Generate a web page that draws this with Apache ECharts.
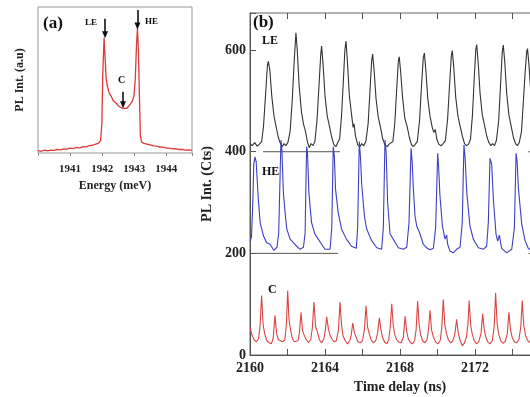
<!DOCTYPE html>
<html lang="en">
<head>
<meta charset="UTF-8"/>
<title>PL spectrum and time trace</title>
<script src="https://cdn.jsdelivr.net/npm/echarts@6/dist/echarts.min.js"></script>
<style>
  html, body { margin: 0; padding: 0; background: #fff; }
  #chart { width: 530px; height: 397px; }
</style>
</head>
<body>
<div id="chart"></div>
<script>
// ---- panel (a): PL spectrum, energy (meV) vs intensity (a.u.)
var specPts = [
  [1940.0, 1.6], [1940.1, 1.2], [1940.2, 1.9], [1940.3, 1.4], [1940.4, 2.0], [1940.5, 1.8],
  [1940.6, 2.5], [1940.7, 2.1], [1940.8, 2.8], [1940.9, 2.6], [1941.0, 3.3], [1941.1, 3.0],
  [1941.2, 3.8], [1941.3, 3.5], [1941.4, 4.4], [1941.5, 4.2], [1941.6, 5.0], [1941.7, 5.3],
  [1941.8, 6.1], [1941.88, 6.6], [1941.95, 8.5], [1941.99, 20], [1942.02, 55], [1942.06, 79],
  [1942.09, 66], [1942.12, 52], [1942.16, 46], [1942.22, 41], [1942.28, 39], [1942.34, 36],
  [1942.4, 35], [1942.46, 33.5], [1942.52, 32], [1942.58, 31], [1942.64, 30.5], [1942.7, 29.5],
  [1942.76, 30.5], [1942.82, 31.5], [1942.88, 33.5], [1942.94, 35.5], [1942.99, 39], [1943.03, 50],
  [1943.07, 74], [1943.1, 85.4], [1943.13, 70], [1943.16, 40], [1943.19, 12], [1943.23, 7.5],
  [1943.3, 6.6], [1943.4, 6.0], [1943.5, 5.6], [1943.6, 4.9], [1943.7, 4.7], [1943.8, 4.1],
  [1943.9, 4.0], [1944.0, 3.4], [1944.1, 3.3], [1944.2, 2.8], [1944.3, 2.9], [1944.4, 2.4],
  [1944.5, 2.5], [1944.6, 2.0], [1944.7, 2.1], [1944.8, 1.8]
];
var energyTicks = [1941, 1942, 1943, 1944];

// ---- panel (b): time traces (ns, counts)
var lePts = [
  [2160.00, 416], [2160.12, 412], [2160.25, 418], [2160.38, 411], [2160.50, 415], [2160.62, 420],
  [2160.72, 450], [2160.84, 518], [2160.93, 570], [2160.98, 578], [2161.06, 560], [2161.16, 510],
  [2161.28, 470], [2161.38, 452], [2161.50, 430], [2161.60, 418], [2161.72, 410], [2161.82, 416],
  [2161.92, 412], [2162.02, 418], [2162.14, 440], [2162.25, 500], [2162.36, 580], [2162.45, 634],
  [2162.52, 600], [2162.62, 530], [2162.74, 480], [2162.85, 455], [2162.96, 440], [2163.06, 420],
  [2163.16, 408], [2163.26, 416], [2163.36, 412], [2163.46, 420], [2163.57, 460], [2163.68, 530],
  [2163.77, 590], [2163.82, 608], [2163.90, 570], [2164.00, 510], [2164.12, 470], [2164.24, 450],
  [2164.36, 428], [2164.47, 414], [2164.58, 410], [2164.68, 418], [2164.78, 425], [2164.88, 470],
  [2164.98, 540], [2165.06, 600], [2165.12, 618], [2165.19, 580], [2165.30, 510], [2165.42, 472],
  [2165.50, 448], [2165.55, 455], [2165.62, 432], [2165.74, 414], [2165.86, 410], [2165.96, 416],
  [2166.06, 412], [2166.18, 420], [2166.30, 455], [2166.40, 520], [2166.49, 580], [2166.54, 592],
  [2166.62, 560], [2166.72, 505], [2166.84, 468], [2166.96, 448], [2167.08, 425], [2167.20, 413],
  [2167.32, 410], [2167.42, 415], [2167.52, 412], [2167.62, 420], [2167.72, 455], [2167.82, 520],
  [2167.91, 578], [2167.96, 587], [2168.04, 555], [2168.14, 505], [2168.26, 465], [2168.38, 450],
  [2168.50, 428], [2168.60, 415], [2168.70, 410], [2168.80, 414], [2168.92, 420], [2169.04, 460],
  [2169.14, 525], [2169.24, 585], [2169.30, 594], [2169.38, 560], [2169.48, 505], [2169.60, 470],
  [2169.72, 448], [2169.80, 438], [2169.88, 444], [2169.96, 425], [2170.08, 414], [2170.20, 412],
  [2170.30, 416], [2170.42, 422], [2170.54, 465], [2170.64, 530], [2170.74, 590], [2170.79, 599],
  [2170.87, 565], [2170.97, 508], [2171.09, 470], [2171.21, 450], [2171.33, 430], [2171.44, 416],
  [2171.55, 412], [2171.66, 415], [2171.76, 425], [2171.86, 470], [2171.96, 545], [2172.04, 600],
  [2172.09, 611], [2172.17, 575], [2172.27, 515], [2172.39, 472], [2172.51, 452], [2172.63, 430],
  [2172.74, 418], [2172.84, 412], [2172.94, 416], [2173.04, 412], [2173.14, 422], [2173.26, 460],
  [2173.36, 530], [2173.45, 595], [2173.51, 610], [2173.59, 575], [2173.69, 515], [2173.81, 472],
  [2173.93, 450], [2174.05, 428], [2174.16, 416], [2174.26, 412], [2174.36, 418], [2174.48, 440],
  [2174.58, 500], [2174.68, 560], [2174.76, 598], [2174.80, 603], [2174.88, 570], [2174.98, 515],
  [2175.10, 475], [2175.25, 445], [2175.40, 420], [2175.60, 412], [2175.90, 415]
];
var hePts = [
  [2160.00, 224], [2160.08, 232], [2160.15, 300], [2160.20, 375], [2160.27, 390], [2160.33, 380],
  [2160.44, 308], [2160.54, 261], [2160.72, 234], [2160.89, 221], [2161.07, 218], [2161.27, 206],
  [2161.44, 212], [2161.53, 240], [2161.59, 330], [2161.65, 423], [2161.70, 405], [2161.78, 320],
  [2161.87, 281], [2161.96, 248], [2162.14, 228], [2162.31, 221], [2162.49, 214], [2162.67, 208],
  [2162.85, 212], [2162.94, 240], [2162.98, 330], [2163.02, 410], [2163.07, 395], [2163.14, 320],
  [2163.28, 261], [2163.46, 238], [2163.64, 228], [2163.82, 218], [2164.00, 208], [2164.27, 208],
  [2164.36, 250], [2164.44, 410], [2164.50, 390], [2164.56, 327], [2164.70, 281], [2164.88, 248],
  [2165.14, 228], [2165.41, 214], [2165.67, 210], [2165.74, 250], [2165.83, 420], [2165.89, 390],
  [2165.96, 334], [2166.10, 274], [2166.22, 248], [2166.49, 225], [2166.76, 211], [2167.02, 208],
  [2167.11, 250], [2167.20, 423], [2167.26, 400], [2167.34, 300], [2167.47, 238], [2167.64, 228],
  [2167.91, 211], [2168.18, 208], [2168.36, 212], [2168.48, 260], [2168.59, 407], [2168.65, 380],
  [2168.71, 328], [2168.80, 274], [2168.89, 254], [2169.07, 238], [2169.24, 218], [2169.42, 211],
  [2169.60, 207], [2169.78, 210], [2169.90, 250], [2170.01, 397], [2170.06, 370], [2170.13, 314],
  [2170.26, 254], [2170.40, 228], [2170.49, 236], [2170.54, 218], [2170.67, 204], [2170.84, 201],
  [2171.02, 208], [2171.20, 212], [2171.32, 260], [2171.41, 413], [2171.47, 390], [2171.56, 320],
  [2171.73, 254], [2171.91, 228], [2172.18, 211], [2172.44, 208], [2172.62, 214], [2172.71, 260],
  [2172.80, 387], [2172.89, 375], [2172.98, 306], [2173.12, 238], [2173.21, 224], [2173.30, 236],
  [2173.42, 210], [2173.69, 201], [2173.96, 208], [2174.10, 250], [2174.19, 397], [2174.25, 380],
  [2174.31, 330], [2174.49, 258], [2174.67, 225], [2174.84, 210], [2175.00, 206], [2175.30, 205],
  [2175.50, 212]
];
var cPts = [
  [2160.00, 55], [2160.10, 40], [2160.22, 30], [2160.34, 26], [2160.46, 32], [2160.54, 60],
  [2160.62, 117], [2160.70, 60], [2160.78, 42], [2160.90, 28], [2161.02, 24], [2161.14, 22],
  [2161.24, 34], [2161.33, 78], [2161.42, 42], [2161.52, 30], [2161.62, 27], [2161.74, 26],
  [2161.86, 30], [2161.94, 60], [2162.01, 127], [2162.08, 70], [2162.16, 50], [2162.26, 32],
  [2162.36, 26], [2162.46, 23], [2162.56, 28], [2162.64, 45], [2162.72, 84], [2162.80, 48],
  [2162.88, 40], [2163.00, 30], [2163.12, 25], [2163.24, 30], [2163.33, 55], [2163.41, 104],
  [2163.50, 55], [2163.60, 45], [2163.70, 30], [2163.82, 24], [2163.94, 32], [2164.02, 50],
  [2164.09, 75], [2164.18, 52], [2164.26, 40], [2164.36, 32], [2164.48, 26], [2164.60, 28],
  [2164.72, 50], [2164.80, 104], [2164.88, 60], [2164.96, 38], [2165.08, 28], [2165.20, 22],
  [2165.32, 28], [2165.40, 40], [2165.48, 63], [2165.56, 45], [2165.66, 35], [2165.76, 26],
  [2165.88, 24], [2166.00, 28], [2166.10, 50], [2166.19, 97], [2166.27, 55], [2166.36, 42],
  [2166.46, 30], [2166.58, 24], [2166.70, 28], [2166.80, 42], [2166.90, 73], [2166.98, 50],
  [2167.06, 36], [2167.18, 25], [2167.30, 22], [2167.40, 30], [2167.48, 55], [2167.56, 101],
  [2167.64, 58], [2167.72, 40], [2167.82, 30], [2167.94, 25], [2168.06, 24], [2168.18, 35],
  [2168.27, 76], [2168.35, 48], [2168.44, 32], [2168.54, 25], [2168.66, 22], [2168.78, 28],
  [2168.86, 50], [2168.94, 106], [2169.02, 60], [2169.10, 40], [2169.20, 28], [2169.32, 24],
  [2169.44, 30], [2169.52, 50], [2169.60, 88], [2169.68, 50], [2169.78, 35], [2169.90, 26],
  [2170.02, 22], [2170.14, 28], [2170.22, 50], [2170.31, 109], [2170.39, 60], [2170.48, 42],
  [2170.58, 30], [2170.70, 24], [2170.82, 28], [2170.92, 40], [2171.02, 70], [2171.10, 45],
  [2171.20, 30], [2171.32, 18], [2171.44, 24], [2171.54, 35], [2171.62, 60], [2171.69, 107],
  [2171.77, 58], [2171.86, 40], [2171.96, 28], [2172.08, 22], [2172.20, 26], [2172.32, 42],
  [2172.41, 81], [2172.49, 50], [2172.58, 35], [2172.68, 26], [2172.80, 22], [2172.92, 28],
  [2173.02, 55], [2173.10, 122], [2173.18, 62], [2173.27, 40], [2173.38, 28], [2173.50, 23],
  [2173.62, 27], [2173.72, 42], [2173.81, 84], [2173.89, 50], [2173.98, 35], [2174.10, 26],
  [2174.22, 24], [2174.34, 30], [2174.44, 55], [2174.52, 107], [2174.60, 58], [2174.70, 38],
  [2174.82, 28], [2174.95, 24], [2175.10, 35]
];
// offset baselines drawn under the LE and HE traces
var base400 = [[[2160.7, 400], [2164.8, 400]], [[2174.85, 400], [2176, 400]]];
var base200 = [[[2160.0, 200], [2164.7, 200]], [[2174.85, 200], [2176, 200]]];
var countTicks = [0, 200, 400, 600];
var timeLabels = [2160, 2164, 2168, 2172];

var serif = "'Liberation Serif', 'Times New Roman', serif";

var chart = echarts.init(document.getElementById('chart'), null, {renderer: 'canvas'});

function arrowLine(x, y0, y1) {
    return [{coord: [x, y0]}, {coord: [x, y1]}];
}

function segSeries(seg) {
    return {
        type: 'line', xAxisIndex: 1, yAxisIndex: 1, data: seg,
        showSymbol: false, silent: true,
        lineStyle: {color: '#555', width: 1}
    };
}

var option = {
    animation: false,
    backgroundColor: '#fff',
    textStyle: {fontFamily: serif},
    grid: [
        {left: 38, top: 7, width: 154, height: 146, outerBoundsMode: 'none',
         show: true, borderColor: '#999', borderWidth: 1, backgroundColor: 'transparent'},
        {left: 250, top: 13, width: 300, height: 342, outerBoundsMode: 'none',
         show: true, borderColor: '#666', borderWidth: 1, backgroundColor: 'transparent'}
    ],
    xAxis: [
        {
            gridIndex: 0, type: 'value', min: 1940, max: 1944.8, interval: 1,
            name: 'Energy (meV)', nameLocation: 'middle', nameGap: 27,
            nameTextStyle: {fontFamily: serif, fontWeight: 'bold', fontSize: 12, color: '#222'},
            axisLine: {show: false},
            axisTick: {show: true, inside: false, length: 3, lineStyle: {color: '#888'}},
            axisLabel: {
                fontFamily: serif, fontWeight: 'bold', fontSize: 11, color: '#222', margin: 11,
                formatter: function (v) { return energyTicks.indexOf(v) >= 0 ? String(v) : ''; }
            },
            splitLine: {show: false}
        },
        {
            gridIndex: 1, type: 'value', min: 2160, max: 2176, interval: 2,
            name: 'Time delay (ns)', nameLocation: 'middle', nameGap: 25,
            nameTextStyle: {fontFamily: serif, fontWeight: 'bold', fontSize: 14, color: '#222'},
            axisLine: {show: true, lineStyle: {color: '#555', width: 1}},
            axisTick: {show: true, inside: true, length: 6, lineStyle: {color: '#555'}},
            axisLabel: {
                fontFamily: serif, fontWeight: 'bold', fontSize: 14, color: '#222', margin: 6,
                formatter: function (v) { return timeLabels.indexOf(v) >= 0 ? String(v) : ''; }
            },
            splitLine: {show: false}
        },
        {
            gridIndex: 1, type: 'value', position: 'top', min: 2160, max: 2176, interval: 2,
            axisLine: {show: false},
            axisTick: {show: true, inside: true, length: 6, lineStyle: {color: '#555'}},
            axisLabel: {show: false},
            splitLine: {show: false}
        }
    ],
    yAxis: [
        {
            gridIndex: 0, type: 'value', min: 0, max: 100,
            name: 'PL Int. (a.u)', nameLocation: 'middle', nameGap: 12,
            nameTextStyle: {fontFamily: serif, fontWeight: 'bold', fontSize: 12, color: '#222'},
            axisLine: {show: false}, axisTick: {show: false}, axisLabel: {show: false},
            splitLine: {show: false}
        },
        {
            gridIndex: 1, type: 'value', min: 0, max: 673, interval: 200,
            name: 'PL Int. (Cts)', nameLocation: 'middle', nameGap: 26,
            nameTextStyle: {fontFamily: serif, fontWeight: 'bold', fontSize: 14, color: '#222'},
            axisLine: {show: true, lineStyle: {color: '#555', width: 1}},
            axisTick: {show: true, inside: true, length: 6, lineStyle: {color: '#555'}},
            axisLabel: {
                fontFamily: serif, fontWeight: 'bold', fontSize: 14, color: '#222', margin: 4,
                formatter: function (v) { return countTicks.indexOf(v) >= 0 ? String(v) : ''; }
            },
            splitLine: {show: false}
        }
    ],
    series: [
        {
            name: 'spectrum', type: 'line', xAxisIndex: 0, yAxisIndex: 0,
            data: specPts, showSymbol: false,
            lineStyle: {color: '#dd3a3a', width: 1.3},
            markLine: {
                silent: true, symbol: ['none', 'triangle'], symbolSize: [6, 7],
                label: {show: false},
                lineStyle: {color: '#111', width: 1.6, type: 'solid'},
                data: [
                    arrowLine(1942.09, 92, 81),
                    arrowLine(1943.10, 98, 87),
                    arrowLine(1942.65, 42, 33)
                ]
            }
        },
        segSeries(base400[0]), segSeries(base400[1]),
        segSeries(base200[0]), segSeries(base200[1]),
        {
            name: 'LE', type: 'line', xAxisIndex: 1, yAxisIndex: 1,
            data: lePts, showSymbol: false,
            lineStyle: {color: '#333', width: 1.1}
        },
        {
            name: 'HE', type: 'line', xAxisIndex: 1, yAxisIndex: 1,
            data: hePts, showSymbol: false,
            lineStyle: {color: '#3d3fc0', width: 1.1}
        },
        {
            name: 'C', type: 'line', xAxisIndex: 1, yAxisIndex: 1,
            data: cPts, showSymbol: false,
            lineStyle: {color: '#dc4444', width: 1.1}
        }
    ],
    graphic: [
        {type: 'text', left: 43, top: 15, style: {text: '(a)', font: 'bold 17px ' + serif, fill: '#111'}},
        {type: 'text', left: 85, top: 18, style: {text: 'LE', font: 'bold 9px ' + serif, fill: '#111'}},
        {type: 'text', left: 145, top: 17, style: {text: 'HE', font: 'bold 9px ' + serif, fill: '#111'}},
        {type: 'text', left: 118, top: 75, style: {text: 'C', font: 'bold 10px ' + serif, fill: '#111'}},
        {type: 'text', left: 253, top: 14, style: {text: '(b)', font: 'bold 17px ' + serif, fill: '#111'}},
        {type: 'text', left: 262, top: 35, style: {text: 'LE', font: 'bold 12px ' + serif, fill: '#111'}},
        {type: 'text', left: 262, top: 166, style: {text: 'HE', font: 'bold 12px ' + serif, fill: '#111'}},
        {type: 'text', left: 268, top: 284, style: {text: 'C', font: 'bold 12px ' + serif, fill: '#111'}},
        {type: 'text', left: -5, top: 232, style: {text: 's', font: 'bold 14px ' + serif, fill: '#111'}}
    ]
};

chart.setOption(option);
</script>
</body>
</html>
